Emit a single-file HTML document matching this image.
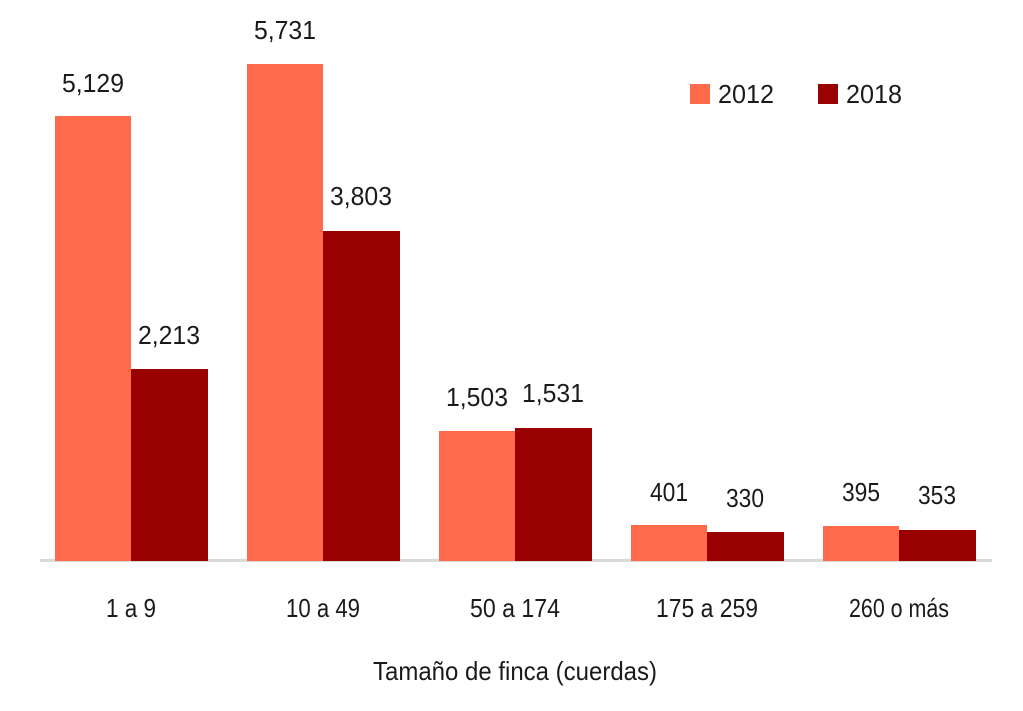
<!DOCTYPE html>
<html><head><meta charset="utf-8"><style>
html,body{margin:0;padding:0;background:#fff;}
svg text{font-family:"Liberation Sans Narrow","Liberation Sans",sans-serif;fill:#1a1a1a;}
</style></head><body>
<svg width="1023" height="706" viewBox="0 0 1023 706" xmlns="http://www.w3.org/2000/svg">
<rect x="40" y="559" width="952" height="3" fill="#d9d9d9"/>
<g fill="#FF6A4B">
<rect x="55" y="116" width="76" height="445"/>
<rect x="247" y="64" width="76" height="497"/>
<rect x="439" y="431" width="76" height="130"/>
<rect x="631" y="525" width="76" height="36"/>
<rect x="823" y="526" width="76" height="35"/>
<rect x="690" y="84" width="20" height="20"/>
</g>
<g fill="#990000">
<rect x="131" y="369" width="77" height="192"/>
<rect x="323" y="231" width="77" height="330"/>
<rect x="515" y="428" width="77" height="133"/>
<rect x="707" y="532" width="77" height="29"/>
<rect x="899" y="530" width="77" height="31"/>
<rect x="818" y="84" width="20" height="20"/>
</g>
<g font-size="26" text-anchor="middle">
<text x="93" y="92" textLength="62" lengthAdjust="spacingAndGlyphs">5,129</text>
<text x="169" y="344" textLength="62" lengthAdjust="spacingAndGlyphs">2,213</text>
<text x="285" y="39" textLength="62" lengthAdjust="spacingAndGlyphs">5,731</text>
<text x="361" y="205" textLength="62" lengthAdjust="spacingAndGlyphs">3,803</text>
<text x="477" y="406" textLength="62" lengthAdjust="spacingAndGlyphs">1,503</text>
<text x="553" y="402" textLength="62" lengthAdjust="spacingAndGlyphs">1,531</text>
<text x="669" y="501" textLength="38" lengthAdjust="spacingAndGlyphs">401</text>
<text x="745" y="507" textLength="38" lengthAdjust="spacingAndGlyphs">330</text>
<text x="861" y="501" textLength="38" lengthAdjust="spacingAndGlyphs">395</text>
<text x="937" y="504" textLength="38" lengthAdjust="spacingAndGlyphs">353</text>
<text x="131" y="617" textLength="50" lengthAdjust="spacingAndGlyphs">1 a 9</text>
<text x="323" y="617" textLength="74" lengthAdjust="spacingAndGlyphs">10 a 49</text>
<text x="515" y="617" textLength="90" lengthAdjust="spacingAndGlyphs">50 a 174</text>
<text x="707" y="617" textLength="102" lengthAdjust="spacingAndGlyphs">175 a 259</text>
<text x="899" y="617" textLength="100" lengthAdjust="spacingAndGlyphs">260 o más</text>
<text x="515" y="680" textLength="284" lengthAdjust="spacingAndGlyphs">Tamaño de finca (cuerdas)</text>
</g>
<g font-size="26">
<text x="718" y="103" textLength="56" lengthAdjust="spacingAndGlyphs">2012</text>
<text x="846" y="103" textLength="56" lengthAdjust="spacingAndGlyphs">2018</text>
</g>
</svg>
</body></html>
